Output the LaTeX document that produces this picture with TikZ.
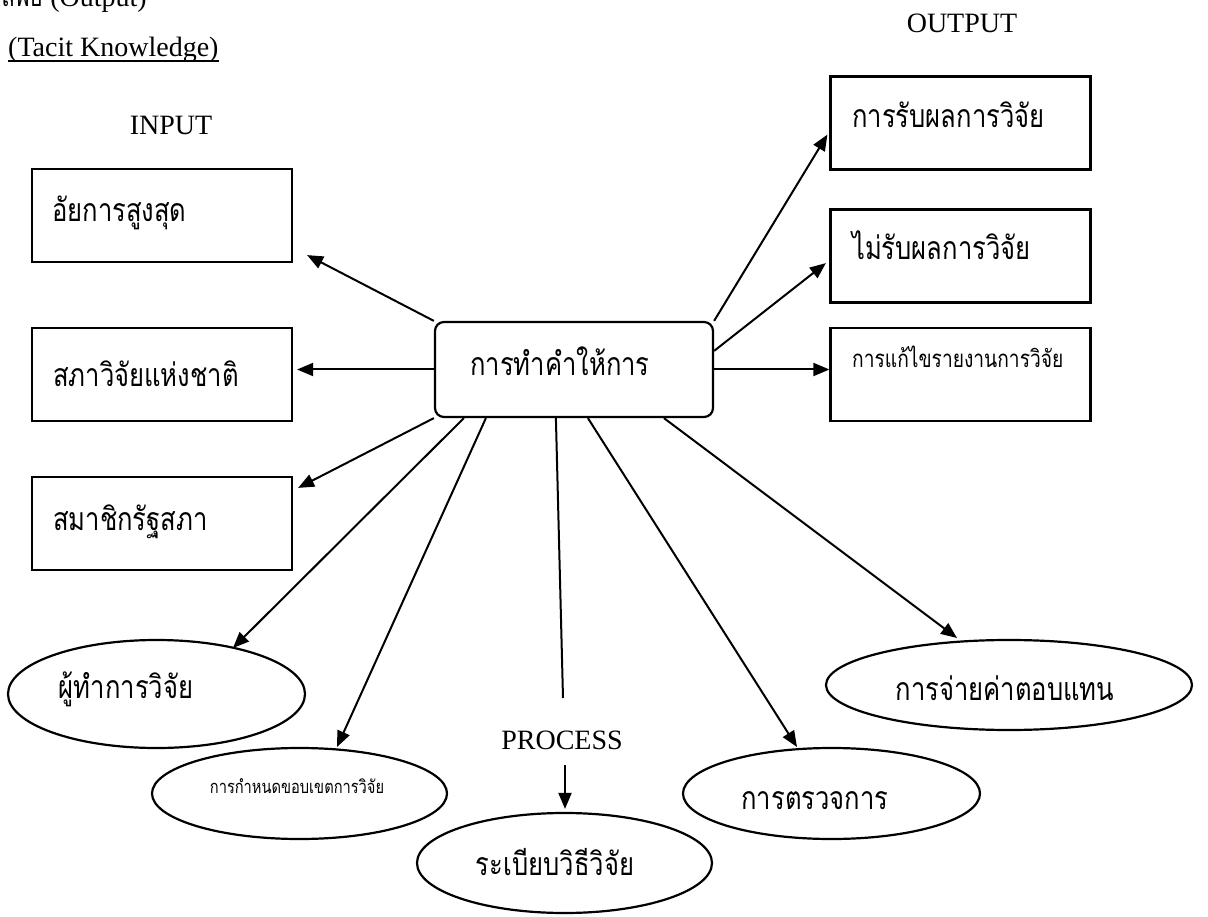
\documentclass[tikz,border=0pt]{standalone}
\usepackage{fontspec}
\setmainfont{Liberation Serif}
\newfontfamily\thai[Script=Thai,FakeStretch=0.8]{Loma}
\usetikzlibrary{arrows.meta,shapes.geometric,calc}
\begin{document}
\begin{tikzpicture}[x=1pt,y=-1pt,
  box/.style={draw, line width=2.2pt, minimum width=260pt, minimum height=93pt, inner sep=0pt},
  oval/.style={draw, ellipse, line width=2.2pt, inner sep=0pt},
  th/.style={font=\thai\fontsize{32}{38}\selectfont, inner sep=0pt},
  thsmall/.style={font=\thai\fontsize{18.3}{22}\selectfont, inner sep=0pt},
  thmid/.style={font=\thai\fontsize{24}{29}\selectfont, inner sep=0pt},
  lat/.style={font=\fontsize{28}{33}\selectfont, inner sep=0pt},
  arr/.style={line width=2pt, -{Triangle[length=16pt,width=13pt]}},
  ln/.style={line width=2pt}]
\useasboundingbox (0,0) rectangle (1208,917);

% labels
\node[lat, anchor=base east] (toptxt) at (147,7) {{\thai ผลลัพธ์} (Output)};
\node[lat, anchor=base west] (tk) at (8,57) {(Tacit Knowledge)};
\draw[line width=1.4pt] ([yshift=-4pt]tk.base west) -- ([yshift=-4pt]tk.base east);
\node[lat, anchor=base] (inp) at (171,135) {INPUT};
\node[lat, anchor=base] (outp) at (962,33) {OUTPUT};
\node[lat, anchor=base] (pr) at (562,749) {PROCESS};

% input boxes
\node[box] (b1) at (162,215.5) {};
\node[box] (b2) at (162,374.5) {};
\node[box] (b3) at (162,523.5) {};
\node[th, anchor=base west] (t1) at (52,222) {อัยการสูงสุด};
\node[th, anchor=base west] (t2) at (53,387) {สภาวิจัยแห่งชาติ};
\node[th, anchor=base west] (t3) at (53,530) {สมาชิกรัฐสภา};

% output boxes
\node[box] (r1) at (960.5,123) {};
\node[box] (r2) at (960.5,256) {};
\node[box] (r3) at (960.5,374.5) {};
\node[th, anchor=base west] (s1) at (852,128) {การรับผลการวิจัย};
\node[th, anchor=base west] (s2) at (852,260) {ไม่รับผลการวิจัย};
\node[thmid, anchor=base west] (s3) at (852,368) {การแก้ไขรายงานการวิจัย};

% centre
\node[draw, rounded corners=9pt, line width=2.2pt, minimum width=278pt, minimum height=95pt, inner sep=0pt] (c) at (574,369.5) {};
\node[th, anchor=base] (ct) at (560,375) {การทำคำให้การ};

% ellipses
\node[oval, minimum width=297pt, minimum height=108pt] (e1) at (156.5,694) {};
\node[oval, minimum width=295pt, minimum height=91pt] (e2) at (299.5,793.5) {};
\node[oval, minimum width=295pt, minimum height=100pt] (e3) at (564.5,863) {};
\node[oval, minimum width=297pt, minimum height=91pt] (e4) at (831.5,793.5) {};
\node[oval, minimum width=366pt, minimum height=90pt] (e5) at (1009,685) {};
\node[th, anchor=base] (u1) at (126,698) {ผู้ทำการวิจัย};
\node[thsmall, anchor=base] (u2) at (297,793) {การกำหนดขอบเขตการวิจัย};
\node[th, anchor=base] (u3) at (555,875) {ระเบียบวิธีวิจัย};
\node[th, anchor=base] (u4) at (815,809) {การตรวจการ};
\node[th, anchor=base] (u5) at (1005,700) {การจ่ายค่าตอบแทน};

\coordinate (p1) at (563,698);
\coordinate (p2) at (565,765);

% connectors
\draw[arr] (c.north west) -- ($(b1.south east)+(14,-8)$);
\draw[arr] (c.west) -- ($(c.west -| b2.east)+(4,0)$);
\draw[arr] (c.south west) -- ($(b3.north east)+(5,12)$);
\draw[arr] ([xshift=30pt]c.south west) -- ($(e1.center)+(76.5,-46)$);
\draw[arr] ([xshift=52pt]c.south west) -- ($(e2.center)+(37.5,-46.5)$);
\draw[ln] ([xshift=122pt]c.south west) -- (p1);
\draw[arr] (p2) -- ($(e3.north)+(0.5,-3)$);
\draw[arr] ([xshift=154pt]c.south west) -- ($(e4.center)+(-34.5,-46.5)$);
\draw[arr] ([xshift=230pt]c.south west) -- ($(e5.center)+(-52,-47)$);
\draw[arr] (c.north east) -- ($(r1.south west)+(-2,-36)$);
\draw[arr] ([yshift=-30pt]c.north east) -- ($(r2.south west)+(-3.5,-40.5)$);
\draw[arr] (c.east) -- (c.east -| r3.west);
\end{tikzpicture}
\end{document}
